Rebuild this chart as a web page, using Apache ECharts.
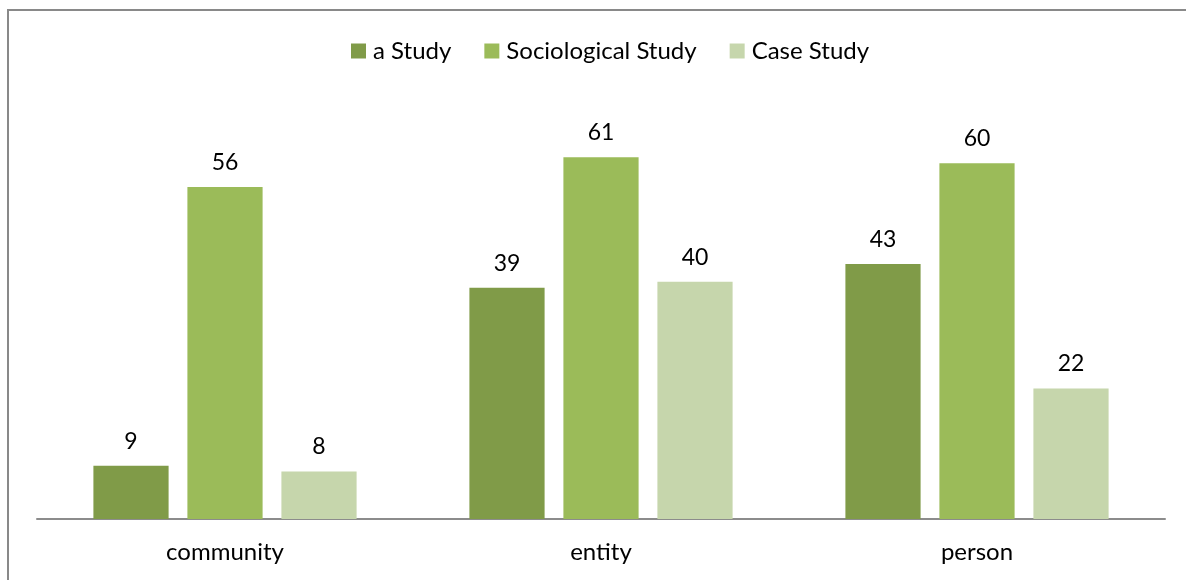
<!DOCTYPE html>
<html>
<head>
<meta charset="utf-8">
<script src="https://cdn.jsdelivr.net/npm/echarts@6/dist/echarts.min.js"></script>
<style>
  html, body { margin: 0; padding: 0; background: #ffffff; }
  #chart { width: 1186px; height: 580px; }
</style>
</head>
<body>
<div id="chart"></div>
<script>
// Categories and counts per study type
const categories = ['community', 'entity', 'person'];
const seriesNames = ['a Study', 'Sociological Study', 'Case Study'];
const aStudy = [9, 39, 43];
const sociologicalStudy = [56, 61, 60];
const caseStudy = [8, 40, 22];
const colors = ['#809B48', '#9BBB59', '#C6D6AC'];

const FONT = 'Lato, "Open Sans", sans-serif';
const values = [aStudy, sociologicalStudy, caseStudy];

const chart = echarts.init(document.getElementById('chart'), null, { renderer: 'canvas' });

chart.setOption({
  animation: false,
  backgroundColor: '#ffffff',
  textStyle: { fontFamily: FONT },
  graphic: [{
    type: 'rect',
    silent: true,
    shape: { x: 8, y: 10, width: 1200, height: 600 },
    style: { fill: 'none', stroke: '#898989', lineWidth: 2 }
  }],
  legend: {
    top: 34,
    left: 346,
    itemWidth: 15,
    itemHeight: 15,
    itemGap: 33,
    icon: 'rect',
    textStyle: { fontSize: 24, color: '#000000', fontFamily: FONT, padding: [0, 0, 0, 2] },
    data: seriesNames
  },
  grid: { left: 37, right: 21, top: 104, height: 415, containLabel: false },
  xAxis: {
    type: 'category',
    data: categories,
    axisLine: { lineStyle: { color: '#8c8c8c', width: 2 } },
    axisTick: { show: false },
    axisLabel: { fontSize: 24, color: '#000000', margin: 21, fontFamily: FONT }
  },
  yAxis: {
    type: 'value',
    min: 0,
    max: 70,
    show: false,
    splitLine: { show: false }
  },
  series: seriesNames.map((name, i) => ({
    name,
    type: 'bar',
    data: values[i],
    barWidth: '20%',
    barGap: '25%',
    itemStyle: { color: colors[i] },
    label: {
      show: true,
      position: 'top',
      distance: 13,
      fontSize: 23,
      color: '#000000',
      fontFamily: FONT
    }
  }))
});
</script>
</body>
</html>
